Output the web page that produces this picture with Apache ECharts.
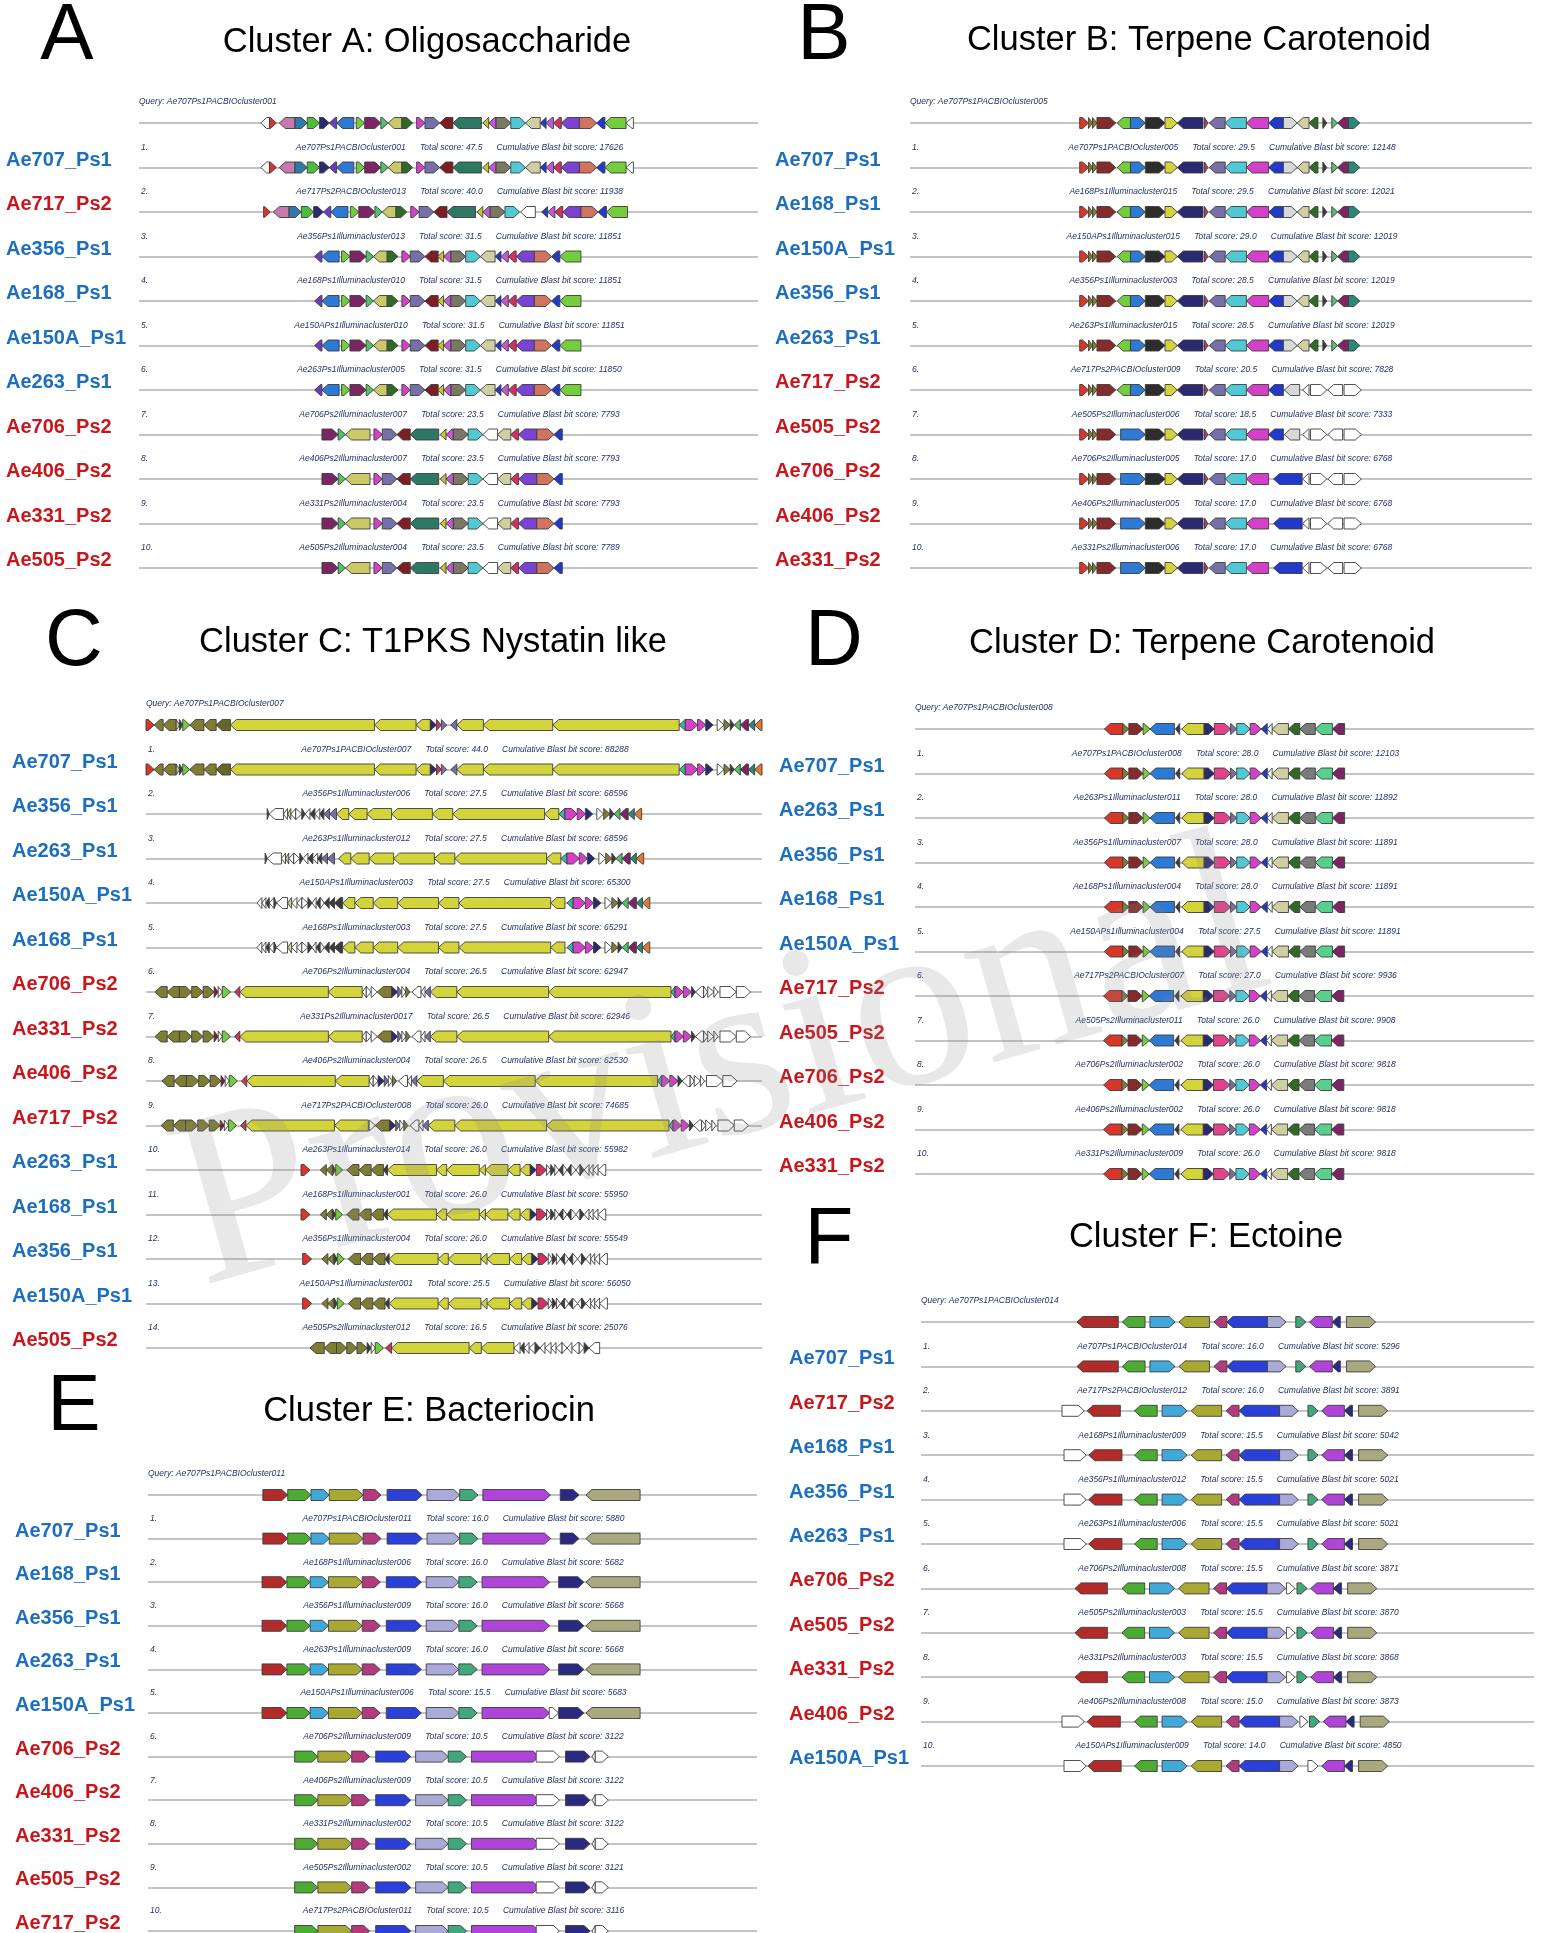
<!DOCTYPE html>
<html>
<head>
<meta charset="utf-8">
<title>ClusterBlast comparison of Ae707_Ps1 clusters</title>
<script src="https://cdn.jsdelivr.net/npm/echarts@6/dist/echarts.min.js"></script>
<style>
html, body { margin: 0; padding: 0; background: #fff; }
#main { width: 1544px; height: 1933px; }
</style>
</head>
<body>
<div id="main"></div>
<script>
// genes: [start kb, end kb, strand, homology group]
// rows: one entry per line (0 = query), each a list of [block, first, last, shift kb]

// ---- Cluster A ----
var strainsA = ['Ae707_Ps1', 'Ae717_Ps2', 'Ae356_Ps1', 'Ae168_Ps1', 'Ae150A_Ps1', 'Ae263_Ps1', 'Ae706_Ps2', 'Ae406_Ps2', 'Ae331_Ps2', 'Ae505_Ps2'];
var hitsA = ['Ae707Ps1PACBIOcluster001', 'Ae717Ps2PACBIOcluster013', 'Ae356Ps1Illuminacluster013', 'Ae168Ps1Illuminacluster010', 'Ae150APs1Illuminacluster010',
    'Ae263Ps1Illuminacluster005', 'Ae706Ps2Illuminacluster007', 'Ae406Ps2Illuminacluster007', 'Ae331Ps2Illuminacluster004', 'Ae505Ps2Illuminacluster004'];
var scoresA = [47.5, 40.0, 31.5, 31.5, 31.5, 31.5, 23.5, 23.5, 23.5, 23.5];
var blastA = [17626, 11938, 11851, 11851, 11851, 11850, 7793, 7793, 7793, 7789];
var genesA = [
    [24.8, 26.6, -1, 'white'], [26.6, 28.0, 1, 'red'], [28.6, 31.8, -1, 'pink'], [31.8, 34.3, 1, 'steel'],
    [34.3, 36.8, 1, 'green'], [36.8, 38.8, 1, 'navy'], [38.8, 40.3, -1, 'violet'], [40.3, 43.8, -1, 'blue'],
    [44.3, 46.0, 1, 'lime'], [46.0, 49.3, 1, 'plum'], [49.3, 50.8, 1, 'mint'], [50.8, 53.6, -1, 'khaki'],
    [53.6, 55.8, 1, 'forest'], [56.6, 58.3, 1, 'magenta'], [58.3, 61.3, 1, 'slate'], [61.3, 64.0, -1, 'brick'],
    [64.0, 69.8, -1, 'teal'], [70.1, 71.3, -1, 'mustard'], [71.3, 72.8, -1, 'orchid'], [72.8, 75.8, 1, 'taupe'],
    [75.8, 78.8, 1, 'cyan'], [78.8, 81.8, -1, 'sand'], [81.8, 83.0, -1, 'royal'], [83.0, 84.5, -1, 'orchid'],
    [84.5, 86.1, -1, 'crimson'], [86.1, 89.8, -1, 'purple'], [89.8, 93.3, 1, 'salmon'], [93.3, 95.0, -1, 'royal'],
    [95.0, 99.3, -1, 'lime'], [99.3, 100.8, -1, 'white'],
    [78.8, 81.8, -1, 'white'], [50.8, 55.8, -1, 'khaki'], [81.8, 84.5, -1, 'sand']
];
var rowsA = [
    [['A', 0, 29, 0]],
    [['A', 0, 29, 0]],
    [['A', 1, 20, -1.2], ['A', 30, 30, -1.0], ['A', 22, 28, 0.3]],
    [['A', 6, 15, -3.0], ['A', 17, 28, -9.2]],
    [['A', 6, 15, -3.0], ['A', 17, 28, -9.2]],
    [['A', 6, 15, -3.0], ['A', 17, 28, -9.2]],
    [['A', 6, 15, -3.0], ['A', 17, 28, -9.2]],
    [['A', 9, 10, -8.7], ['A', 31, 31, -8.7], ['A', 13, 20, -8.7], ['A', 30, 30, -8.7], ['A', 32, 32, -8.7], ['A', 24, 27, -8.7]],
    [['A', 9, 10, -8.7], ['A', 31, 31, -8.7], ['A', 13, 20, -8.7], ['A', 30, 30, -8.7], ['A', 32, 32, -8.7], ['A', 24, 27, -8.7]],
    [['A', 9, 10, -8.7], ['A', 31, 31, -8.7], ['A', 13, 20, -8.7], ['A', 30, 30, -8.7], ['A', 32, 32, -8.7], ['A', 24, 27, -8.7]],
    [['A', 9, 10, -8.7], ['A', 31, 31, -8.7], ['A', 13, 20, -8.7], ['A', 30, 30, -8.7], ['A', 32, 32, -8.7], ['A', 24, 27, -8.7]]
];

// ---- Cluster B ----
var strainsB = ['Ae707_Ps1', 'Ae168_Ps1', 'Ae150A_Ps1', 'Ae356_Ps1', 'Ae263_Ps1', 'Ae717_Ps2', 'Ae505_Ps2', 'Ae706_Ps2', 'Ae406_Ps2', 'Ae331_Ps2'];
var hitsB = ['Ae707Ps1PACBIOcluster005', 'Ae168Ps1Illuminacluster015', 'Ae150APs1Illuminacluster015', 'Ae356Ps1Illuminacluster003', 'Ae263Ps1Illuminacluster015',
    'Ae717Ps2PACBIOcluster009', 'Ae505Ps2Illuminacluster006', 'Ae706Ps2Illuminacluster005', 'Ae406Ps2Illuminacluster005', 'Ae331Ps2Illuminacluster006'];
var scoresB = [29.5, 29.5, 29.0, 28.5, 28.5, 20.5, 18.5, 17.0, 17.0, 17.0];
var blastB = [12148, 12021, 12019, 12019, 12019, 7828, 7333, 6768, 6768, 6768];
var genesB = [
    [34.4, 36.2, 1, 'red'], [36.2, 37.0, 1, 'olive'], [37.0, 37.9, 1, 'olive'], [37.9, 41.7, 1, 'maroon'],
    [42.0, 44.7, -1, 'lime'], [44.7, 47.7, 1, 'blue'], [47.7, 51.7, 1, 'black'], [51.7, 54.2, 1, 'yellow'],
    [54.2, 59.4, -1, 'navy'], [59.7, 60.4, 1, 'crimson'], [60.7, 63.9, -1, 'slate'], [63.9, 68.2, -1, 'cyan'],
    [68.2, 72.7, -1, 'magenta'], [72.7, 75.7, -1, 'royal'], [75.7, 78.5, 1, 'silver'], [78.5, 80.9, -1, 'sand'],
    [80.9, 82.7, -1, 'forest'], [83.7, 84.5, 1, 'charcoal'], [85.5, 86.7, 1, 'mint'], [86.7, 88.9, -1, 'plum'],
    [88.9, 91.2, 1, 'teal2'],
    [75.9, 79.0, -1, 'silver'], [79.6, 80.9, -1, 'white'], [81.2, 84.5, 1, 'white'], [84.7, 87.7, -1, 'white'],
    [88.0, 91.5, 1, 'white'], [42.7, 47.7, 1, 'blue'], [73.7, 79.5, -1, 'royal']
];
var rowsB = [
    [['B', 0, 20, 0]], [['B', 0, 20, 0]], [['B', 0, 20, 0]], [['B', 0, 20, 0]], [['B', 0, 20, 0]], [['B', 0, 20, 0]],
    [['B', 0, 13, 0], ['B', 21, 25, 0]],
    [['B', 0, 3, 0], ['B', 26, 26, 0], ['B', 6, 13, 0], ['B', 21, 25, 0]],
    [['B', 0, 3, 0], ['B', 26, 26, 0], ['B', 6, 12, 0], ['B', 27, 27, 0], ['B', 22, 25, 0]],
    [['B', 0, 3, 0], ['B', 26, 26, 0], ['B', 6, 12, 0], ['B', 27, 27, 0], ['B', 22, 25, 0]],
    [['B', 0, 3, 0], ['B', 26, 26, 0], ['B', 6, 12, 0], ['B', 27, 27, 0], ['B', 22, 25, 0]]
];

// ---- Cluster C ----
var strainsC = ['Ae707_Ps1', 'Ae356_Ps1', 'Ae263_Ps1', 'Ae150A_Ps1', 'Ae168_Ps1', 'Ae706_Ps2', 'Ae331_Ps2', 'Ae406_Ps2', 'Ae717_Ps2',
    'Ae263_Ps1', 'Ae168_Ps1', 'Ae356_Ps1', 'Ae150A_Ps1', 'Ae505_Ps2'];
var hitsC = ['Ae707Ps1PACBIOcluster007', 'Ae356Ps1Illuminacluster006', 'Ae263Ps1Illuminacluster012', 'Ae150APs1Illuminacluster003', 'Ae168Ps1Illuminacluster003',
    'Ae706Ps2Illuminacluster004', 'Ae331Ps2Illuminacluster0017', 'Ae406Ps2Illuminacluster004', 'Ae717Ps2PACBIOcluster008', 'Ae263Ps1Illuminacluster014',
    'Ae168Ps1Illuminacluster001', 'Ae356Ps1Illuminacluster004', 'Ae150APs1Illuminacluster001', 'Ae505Ps2Illuminacluster012'];
var scoresC = [44.0, 27.5, 27.5, 27.5, 27.5, 26.5, 26.5, 26.5, 26.0, 26.0, 26.0, 26.0, 25.5, 16.5];
var blastC = [88288, 68596, 68596, 65300, 65291, 62947, 62946, 62530, 74685, 55982, 55950, 55549, 56050, 25076];
var genesC = [
    [0.0, 2.0, 1, 'red'], [2.0, 4.2, -1, 'olive'], [4.2, 7.4, -1, 'olive'], [7.4, 8.2, 1, 'sand'],
    [8.2, 9.0, 1, 'charcoal'], [9.0, 10.7, 1, 'lime'], [10.7, 14.2, -1, 'olive'], [14.2, 17.2, -1, 'olive'],
    [17.2, 20.7, -1, 'darkolive'], [20.7, 56.0, -1, 'yellow'], [56.0, 66.2, -1, 'yellow'], [66.2, 69.7, -1, 'yellow'],
    [69.7, 71.2, 1, 'navy'], [71.2, 72.4, 1, 'crimson'], [72.4, 73.7, 1, 'slate'], [74.7, 76.2, -1, 'slate'],
    [76.2, 82.7, -1, 'yellow'], [82.7, 99.7, -1, 'yellow'], [99.7, 130.7, -1, 'yellow'], [130.7, 132.2, -1, 'turq'],
    [132.2, 135.2, 1, 'magenta'], [135.2, 137.2, 1, 'magenta'], [137.2, 139.0, 1, 'navy'], [140.0, 141.7, 1, 'white'],
    [141.7, 143.2, 1, 'olive'], [143.2, 144.2, 1, 'charcoal'], [144.2, 145.7, -1, 'mint'], [145.7, 147.7, -1, 'plum'],
    [147.7, 149.2, -1, 'teal2'], [149.2, 151.0, -1, 'orange']
];
var genesC2 = [
    [29.7, 30.2, 1, 'charcoal'], [30.2, 33.7, -1, 'white'], [33.7, 34.7, -1, 'white'], [34.7, 35.5, -1, 'sand'],
    [35.5, 36.7, -1, 'white'], [36.7, 38.2, 1, 'white'], [38.2, 39.0, 1, 'charcoal'], [39.0, 40.2, -1, 'white'],
    [40.2, 41.4, -1, 'charcoal'], [41.4, 42.6, -1, 'white'], [42.6, 43.6, -1, 'charcoal'], [43.6, 45.0, -1, 'slate'],
    [45.0, 46.7, -1, 'slate'], [46.7, 49.7, -1, 'yellow'], [49.7, 54.2, -1, 'yellow'], [54.2, 60.2, -1, 'yellow'],
    [60.2, 70.2, -1, 'yellow'], [70.2, 75.2, -1, 'yellow'], [75.2, 97.7, -1, 'yellow'], [97.7, 101.2, -1, 'yellow']
];
var genesC4 = [
    [27.2, 28.4, -1, 'white'], [28.4, 29.4, -1, 'white'], [29.4, 30.2, -1, 'charcoal'], [30.2, 31.4, -1, 'white'],
    [31.4, 32.0, 1, 'charcoal'], [32.0, 34.7, -1, 'white'], [34.7, 35.7, -1, 'sand'], [35.7, 37.0, -1, 'white'],
    [37.0, 38.2, -1, 'white'], [38.2, 39.7, 1, 'white'], [39.7, 40.7, 1, 'charcoal'], [40.7, 41.7, -1, 'white'],
    [41.7, 42.7, -1, 'charcoal'], [42.7, 43.7, 1, 'white'], [43.7, 44.9, -1, 'charcoal'], [44.9, 46.2, -1, 'charcoal'],
    [46.2, 48.2, -1, 'charcoal']
];
var genesC6 = [
    [2.2, 5.2, -1, 'olive'], [5.2, 8.2, -1, 'olive'], [8.2, 11.2, 1, 'olive'], [11.2, 14.0, 1, 'olive'],
    [14.0, 16.7, 1, 'olive'], [16.7, 17.7, 1, 'brick'], [17.7, 18.7, 1, 'white'], [18.7, 20.7, 1, 'lime'],
    [21.7, 23.0, -1, 'crimson'], [23.0, 44.7, -1, 'yellow'], [44.7, 53.0, -1, 'yellow'], [53.0, 54.0, -1, 'white'],
    [54.0, 55.2, 1, 'white'], [55.2, 56.7, 1, 'white'], [56.7, 60.2, -1, 'olive'], [60.2, 61.7, 1, 'navy'],
    [61.7, 62.7, 1, 'slate'], [62.7, 63.7, 1, 'white'], [63.7, 64.7, 1, 'olive'], [65.2, 67.4, -1, 'white'],
    [67.4, 68.4, -1, 'white'], [68.4, 69.7, -1, 'slate'], [69.7, 76.2, -1, 'yellow'], [76.2, 98.7, -1, 'yellow'],
    [98.7, 128.7, -1, 'yellow'], [128.7, 129.7, -1, 'turq'], [129.7, 131.7, 1, 'magenta'], [131.7, 133.7, 1, 'magenta'],
    [133.7, 134.7, 1, 'charcoal'], [134.7, 136.7, -1, 'white'], [136.7, 137.7, 1, 'white'], [137.7, 139.2, 1, 'white'],
    [139.2, 140.2, 1, 'white'], [140.7, 144.7, 1, 'white'], [144.7, 148.2, 1, 'white']
];
var genesC10 = [
    [38.0, 40.2, 1, 'red'], [42.7, 44.2, -1, 'olive'], [44.2, 45.7, -1, 'olive'], [45.7, 46.5, 1, 'charcoal'],
    [46.5, 48.2, 1, 'lime'], [49.2, 52.2, -1, 'olive'], [52.2, 55.2, -1, 'olive'], [55.2, 58.2, -1, 'olive'],
    [58.2, 59.2, -1, 'charcoal'], [59.2, 71.2, -1, 'yellow'], [71.2, 73.7, -1, 'yellow'], [73.7, 81.7, -1, 'yellow'],
    [81.7, 83.2, -1, 'yellow'], [83.2, 88.7, -1, 'yellow'], [88.7, 91.7, -1, 'yellow'], [91.7, 94.2, -1, 'yellow'],
    [94.2, 95.7, 1, 'navy'], [95.7, 98.2, 1, 'crimson'], [98.2, 99.2, 1, 'white'], [99.2, 100.2, 1, 'charcoal'],
    [100.2, 101.2, 1, 'white'], [101.2, 102.2, -1, 'charcoal'], [102.2, 103.2, 1, 'white'], [103.2, 104.2, -1, 'charcoal'],
    [104.2, 105.4, 1, 'white'], [105.4, 106.4, -1, 'white'], [106.4, 107.4, 1, 'charcoal'], [107.4, 108.6, -1, 'white'],
    [108.6, 109.6, -1, 'white'], [109.6, 110.8, -1, 'white'], [110.8, 112.7, -1, 'white']
];
var genesC14 = [
    [40.2, 43.7, -1, 'olive'], [43.7, 46.7, -1, 'olive'], [46.7, 49.2, 1, 'olive'], [49.2, 51.7, 1, 'olive'],
    [51.7, 54.2, 1, 'olive'], [54.2, 55.2, 1, 'charcoal'], [55.2, 56.2, 1, 'white'], [56.2, 58.2, 1, 'lime'],
    [58.7, 60.2, -1, 'crimson'], [60.2, 79.2, -1, 'yellow'], [79.2, 82.2, -1, 'yellow'], [82.2, 90.2, -1, 'yellow'],
    [90.2, 91.7, -1, 'white'], [91.7, 92.7, -1, 'charcoal'], [92.7, 93.9, -1, 'white'], [93.9, 95.4, -1, 'white'],
    [95.4, 96.6, 1, 'charcoal'], [96.6, 97.8, -1, 'white'], [97.8, 99.3, -1, 'white'], [99.3, 100.5, -1, 'white'],
    [100.5, 102.0, -1, 'white'], [102.0, 103.2, 1, 'white'], [103.2, 104.4, -1, 'white'], [104.4, 106.2, -1, 'white'],
    [106.2, 107.4, 1, 'white'], [107.4, 108.6, 1, 'charcoal'], [108.6, 111.2, -1, 'white']
];
var rowsC = [
    [['C', 0, 29, 0]],
    [['C', 0, 29, 0]],
    [['C2', 0, 19, 0], ['C', 19, 29, -29.5]],
    [['C2', 0, 12, -0.5], ['C2', 13, 19, 0.5], ['C', 19, 29, -29.0]],
    [['C4', 0, 16, 0], ['C2', 13, 19, 1.5], ['C', 19, 29, -27.5]],
    [['C4', 0, 16, 0], ['C2', 13, 19, 1.5], ['C', 19, 29, -27.5]],
    [['C6', 0, 34, 0]],
    [['C6', 0, 34, 0]],
    [['C6', 0, 12, 1.7], ['C6', 15, 34, -3.3]],
    [['C6', 0, 10, 1.5], ['C6', 13, 34, -0.5]],
    [['C10', 0, 30, 0]],
    [['C10', 0, 30, 0]],
    [['C10', 0, 30, 0.4]],
    [['C10', 0, 30, 0.4]],
    [['C14', 0, 26, 0]]
];

// ---- Cluster D ----
var strainsD = ['Ae707_Ps1', 'Ae263_Ps1', 'Ae356_Ps1', 'Ae168_Ps1', 'Ae150A_Ps1', 'Ae717_Ps2', 'Ae505_Ps2', 'Ae706_Ps2', 'Ae406_Ps2', 'Ae331_Ps2'];
var hitsD = ['Ae707Ps1PACBIOcluster008', 'Ae263Ps1Illuminacluster011', 'Ae356Ps1Illuminacluster007', 'Ae168Ps1Illuminacluster004', 'Ae150APs1Illuminacluster004',
    'Ae717Ps2PACBIOcluster007', 'Ae505Ps2Illuminacluster011', 'Ae706Ps2Illuminacluster002', 'Ae406Ps2Illuminacluster002', 'Ae331Ps2Illuminacluster009'];
var scoresD = [28.0, 28.0, 28.0, 28.0, 27.5, 27.0, 26.0, 26.0, 26.0, 26.0];
var blastD = [12103, 11892, 11891, 11891, 11891, 9936, 9908, 9818, 9818, 9818];
var genesD = [
    [46.5, 51.0, -1, 'red'], [51.0, 52.5, 1, 'olive'], [52.5, 56.0, 1, 'maroon'], [56.0, 57.7, 1, 'lime'],
    [57.7, 63.7, -1, 'blue'], [64.0, 65.0, -1, 'charcoal'], [65.5, 71.0, -1, 'yellow'], [71.0, 73.5, 1, 'navy'],
    [73.5, 77.5, 1, 'rose'], [77.5, 79.0, 1, 'slate'], [79.0, 82.3, 1, 'cyan'], [82.3, 85.0, 1, 'magenta'],
    [85.0, 86.5, -1, 'royal'], [86.5, 87.7, -1, 'white'], [87.7, 91.7, -1, 'sand'], [91.7, 94.5, -1, 'forest'],
    [94.5, 98.3, -1, 'gray'], [98.3, 102.5, -1, 'jade'], [102.5, 105.5, -1, 'plum']
];
var rowsD = [
    [['D', 0, 18, 0]], [['D', 0, 18, 0]], [['D', 0, 18, 0]], [['D', 0, 18, 0]], [['D', 0, 18, 0]], [['D', 0, 18, 0]],
    [['D', 0, 18, -0.2]], [['D', 0, 18, -0.2]], [['D', 0, 18, -0.2]], [['D', 0, 18, -0.2]], [['D', 0, 18, -0.2]]
];

// ---- Cluster E ----
var strainsE = ['Ae707_Ps1', 'Ae168_Ps1', 'Ae356_Ps1', 'Ae263_Ps1', 'Ae150A_Ps1', 'Ae706_Ps2', 'Ae406_Ps2', 'Ae331_Ps2', 'Ae505_Ps2', 'Ae717_Ps2'];
var hitsE = ['Ae707Ps1PACBIOcluster011', 'Ae168Ps1Illuminacluster006', 'Ae356Ps1Illuminacluster009', 'Ae263Ps1Illuminacluster009', 'Ae150APs1Illuminacluster006',
    'Ae706Ps2Illuminacluster009', 'Ae406Ps2Illuminacluster009', 'Ae331Ps2Illuminacluster002', 'Ae505Ps2Illuminacluster002', 'Ae717Ps2PACBIOcluster011'];
var scoresE = [16.0, 16.0, 16.0, 16.0, 15.5, 10.5, 10.5, 10.5, 10.5, 10.5];
var blastE = [5880, 5682, 5668, 5668, 5683, 3122, 3122, 3122, 3121, 3116];
var genesE = [
    [28.2, 34.3, 1, 'red2'], [34.3, 40.0, 1, 'green2'], [40.0, 44.5, 1, 'sky'], [44.5, 52.8, 1, 'olive2'],
    [52.8, 57.2, 1, 'berry'], [58.7, 67.3, 1, 'royal2'], [68.5, 76.5, 1, 'lavender'], [76.5, 81.0, 1, 'seagreen'],
    [82.2, 98.8, 1, 'purple2'], [101.2, 105.8, 1, 'navy2'], [107.5, 120.8, -1, 'sage'],
    [95.3, 101.0, 1, 'white'], [102.5, 108.5, 1, 'navy2'], [109.0, 109.8, -1, 'white'], [109.8, 113.0, 1, 'white'],
    [98.5, 100.8, 1, 'white'], [100.8, 107.0, 1, 'navy2']
];
var rowsE = [
    [['E', 0, 10, 0]], [['E', 0, 10, 0]],
    [['E', 0, 8, -0.2], ['E', 16, 16, 0], ['E', 10, 10, 0]],
    [['E', 0, 8, -0.2], ['E', 16, 16, 0], ['E', 10, 10, 0]],
    [['E', 0, 8, -0.2], ['E', 16, 16, 0], ['E', 10, 10, 0]],
    [['E', 0, 8, -0.2], ['E', 15, 16, 0], ['E', 10, 10, 0]],
    [['E', 1, 1, 1.7], ['E', 3, 8, -2.8], ['E', 11, 14, 0]],
    [['E', 1, 1, 1.7], ['E', 3, 8, -2.8], ['E', 11, 14, 0]],
    [['E', 1, 1, 1.7], ['E', 3, 8, -2.8], ['E', 11, 14, 0]],
    [['E', 1, 1, 1.7], ['E', 3, 8, -2.8], ['E', 11, 14, 0]],
    [['E', 1, 1, 1.7], ['E', 3, 8, -2.8], ['E', 11, 14, 0]]
];

// ---- Cluster F ----
var strainsF = ['Ae707_Ps1', 'Ae717_Ps2', 'Ae168_Ps1', 'Ae356_Ps1', 'Ae263_Ps1', 'Ae706_Ps2', 'Ae505_Ps2', 'Ae331_Ps2', 'Ae406_Ps2', 'Ae150A_Ps1'];
var hitsF = ['Ae707Ps1PACBIOcluster014', 'Ae717Ps2PACBIOcluster012', 'Ae168Ps1Illuminacluster009', 'Ae356Ps1Illuminacluster012', 'Ae263Ps1Illuminacluster006',
    'Ae706Ps2Illuminacluster008', 'Ae505Ps2Illuminacluster003', 'Ae331Ps2Illuminacluster003', 'Ae406Ps2Illuminacluster008', 'Ae150APs1Illuminacluster009'];
var scoresF = [16.0, 16.0, 15.5, 15.5, 15.5, 15.5, 15.5, 15.5, 15.0, 14.0];
var blastF = [5296, 3891, 5042, 5021, 5021, 3871, 3870, 3868, 3873, 4850];
var genesF = [
    [38.5, 48.7, -1, 'red2'], [49.7, 55.3, -1, 'green2'], [56.5, 62.7, 1, 'sky'], [63.7, 71.2, -1, 'olive2'],
    [72.3, 75.5, -1, 'berry'], [75.5, 85.5, -1, 'royal2'], [85.5, 90.1, 1, 'lavender'], [92.5, 95.0, 1, 'seagreen'],
    [95.9, 101.5, -1, 'purple2'], [101.5, 103.5, -1, 'navy2'], [105.0, 112.2, 1, 'sage'],
    [34.8, 40.3, 1, 'white'], [38.0, 46.0, -1, 'red2'], [90.2, 92.3, 1, 'white'], [93.5, 95.5, 1, 'white'],
    [92.5, 95.0, 1, 'white'], [41.0, 49.2, -1, 'red2']
];
var rowsF = [
    [['F', 0, 10, 0]], [['F', 0, 10, 0]],
    [['F', 11, 11, 0], ['F', 16, 16, 0], ['F', 1, 10, 3.0]],
    [['F', 11, 11, 0.5], ['F', 16, 16, 0.4], ['F', 1, 10, 3.0]],
    [['F', 11, 11, 0.5], ['F', 16, 16, 0.4], ['F', 1, 10, 3.0]],
    [['F', 11, 11, 0.5], ['F', 16, 16, 0.4], ['F', 1, 10, 3.0]],
    [['F', 12, 12, 0], ['F', 1, 6, -0.1], ['F', 13, 13, 0], ['F', 7, 10, 0.3]],
    [['F', 12, 12, 0], ['F', 1, 6, -0.1], ['F', 13, 13, 0], ['F', 7, 10, 0.3]],
    [['F', 12, 12, 0], ['F', 1, 6, -0.1], ['F', 13, 13, 0], ['F', 7, 10, 0.3]],
    [['F', 11, 11, 0], ['F', 16, 16, 0], ['F', 1, 6, 3.0], ['F', 14, 14, 0], ['F', 7, 10, 3.4]],
    [['F', 11, 11, 0.5], ['F', 16, 16, 0.2], ['F', 1, 6, 3.0], ['F', 15, 15, 3.0], ['F', 8, 10, 3.0]]
];

// ---- styling ----
var palette = {
    white: '#ffffff', red: '#d8352b', pink: '#c679ac', steel: '#2e7aa9', green: '#4bbf3a', navy: '#2a2a72',
    violet: '#6a3dbd', blue: '#2e79d4', lime: '#74cd3d', plum: '#7c2563', mint: '#52c266', khaki: '#cbc967',
    forest: '#2f6b24', magenta: '#d540c8', slate: '#7571a8', brick: '#7c1e24', teal: '#2d7862', mustard: '#c8c42e',
    orchid: '#c657d4', taupe: '#7a7865', cyan: '#51c9d5', sand: '#d0cfa2', royal: '#2339c9', crimson: '#d2305f',
    purple: '#7a43d4', salmon: '#d1745f', olive: '#7f7c33', maroon: '#862b2b', black: '#2d2d2d', yellow: '#d3d33b',
    silver: '#d8d8d8', charcoal: '#3b3b3b', teal2: '#2b8779', turq: '#3cb3a8', orange: '#e07a28', darkolive: '#66652a',
    rose: '#e0438b', gray: '#7b7b7b', jade: '#58cf8c', red2: '#b22b2b', green2: '#4bab33', sky: '#40a9d9',
    olive2: '#a9a832', berry: '#b23b80', royal2: '#2b3fd9', lavender: '#aaaad8', seagreen: '#40a87c',
    purple2: '#b044d9', navy2: '#2a2a80', sage: '#a8a97f'
};
var blocks = { A: genesA, B: genesB, C: genesC, C2: genesC2, C4: genesC4, C6: genesC6, C10: genesC10, C14: genesC14,
    D: genesD, E: genesE, F: genesF };

var panels = [
    { letter: 'A', title: 'Cluster A: Oligosaccharide', query: 'Ae707Ps1PACBIOcluster001', strains: strainsA, hits: hitsA, scores: scoresA, blast: blastA, rows: rowsA,
        span: 126.2, grid: { left: 139, top: 123, width: 619, height: 445 }, labelX: 6, letterAt: [67, 37], titleAt: [427, 42] },
    { letter: 'B', title: 'Cluster B: Terpene Carotenoid', query: 'Ae707Ps1PACBIOcluster005', strains: strainsB, hits: hitsB, scores: scoresB, blast: blastB, rows: rowsB,
        span: 126.1, grid: { left: 910, top: 123, width: 622, height: 445 }, labelX: 775, letterAt: [824, 37], titleAt: [1199, 40] },
    { letter: 'C', title: 'Cluster C: T1PKS Nystatin like', query: 'Ae707Ps1PACBIOcluster007', strains: strainsC, hits: hitsC, scores: scoresC, blast: blastC, rows: rowsC,
        span: 151, grid: { left: 146, top: 725, width: 616, height: 623 }, labelX: 12, letterAt: [74, 643], titleAt: [433, 642] },
    { letter: 'D', title: 'Cluster D: Terpene Carotenoid', query: 'Ae707Ps1PACBIOcluster008', strains: strainsD, hits: hitsD, scores: scoresD, blast: blastD, rows: rowsD,
        span: 152, grid: { left: 915, top: 729, width: 619, height: 445 }, labelX: 779, letterAt: [834, 643], titleAt: [1202, 643] },
    { letter: 'E', title: 'Cluster E: Bacteriocin', query: 'Ae707Ps1PACBIOcluster011', strains: strainsE, hits: hitsE, scores: scoresE, blast: blastE, rows: rowsE,
        span: 149.5, grid: { left: 148, top: 1495, width: 609, height: 436 }, labelX: 15, letterAt: [74, 1408], titleAt: [429, 1411] },
    { letter: 'F', title: 'Cluster F: Ectoine', query: 'Ae707Ps1PACBIOcluster014', strains: strainsF, hits: hitsF, scores: scoresF, blast: blastF, rows: rowsF,
        span: 151.3, grid: { left: 921, top: 1322, width: 613, height: 444 }, labelX: 789, letterAt: [829, 1241], titleAt: [1206, 1237] }
];

var infoColor = '#24306e';
var infoFont = 'italic 8.5px "Liberation Sans", Arial, sans-serif';

function geneData(rows) {
    var out = [];
    rows.forEach(function (segs, r) {
        segs.forEach(function (s) {
            var list = blocks[s[0]];
            for (var i = s[1]; i <= s[2]; i++) {
                var g = list[i];
                out.push({ value: [g[0] + s[3], g[1] + s[3], r, g[2]], itemStyle: { color: palette[g[3]] } });
            }
        });
    });
    return out;
}

function renderGene(params, api) {
    var y = api.coord([0, api.value(2)])[1];
    var xa = api.coord([api.value(0), 0])[0];
    var xb = api.coord([api.value(1), 0])[0];
    var h = 5.5;
    var head = Math.min(6, xb - xa);
    var pts = api.value(3) > 0
        ? [[xa, y - h], [xb - head, y - h], [xb, y], [xb - head, y + h], [xa, y + h]]
        : [[xb, y - h], [xa + head, y - h], [xa, y], [xa + head, y + h], [xb, y + h]];
    return {
        type: 'polygon',
        shape: { points: pts },
        style: { fill: api.visual('color'), stroke: '#3d3d3d', lineWidth: 0.9 }
    };
}

function renderInfo(p) {
    return function (params, api) {
        var r = api.value(0);
        var cs = params.coordSys;
        var y = api.coord([0, r])[1] - 20;
        if (r === 0) {
            return { type: 'text', style: { x: cs.x, y: y - 1, text: 'Query: ' + p.query, font: infoFont, fill: infoColor, verticalAlign: 'middle' } };
        }
        var line = p.hits[r - 1] + '      Total score: ' + p.scores[r - 1].toFixed(1) +
            '      Cumulative Blast bit score: ' + p.blast[r - 1];
        return {
            type: 'group',
            children: [
                { type: 'text', style: { x: cs.x + 2, y: y, text: r + '.', font: infoFont, fill: infoColor, verticalAlign: 'middle' } },
                { type: 'text', style: { x: cs.x + cs.width / 2 + 11, y: y, text: line, font: infoFont, fill: infoColor, align: 'center', verticalAlign: 'middle' } }
            ]
        };
    };
}

var option = {
    backgroundColor: '#ffffff',
    animation: false,
    title: [],
    grid: [],
    xAxis: [],
    yAxis: [],
    series: [],
    graphic: [{
        type: 'text', x: 722, y: 1072, rotation: 0.275, z: 100, silent: true,
        style: { text: 'Provisional', font: '245px "Liberation Serif", serif', fill: 'rgba(140,140,140,0.2)', align: 'center', verticalAlign: 'middle' }
    }]
};

panels.forEach(function (p, k) {
    option.title.push({
        text: p.letter, left: p.letterAt[0], top: p.letterAt[1] - 40, textAlign: 'center', padding: 0,
        textStyle: { fontSize: 80, lineHeight: 80, fontWeight: 'normal', fontFamily: 'Liberation Sans', color: '#000' }
    });
    option.title.push({
        text: p.title, left: p.titleAt[0], top: p.titleAt[1] - 17, textAlign: 'center', padding: 0,
        textStyle: { fontSize: 34.5, lineHeight: 35, fontWeight: 'normal', fontFamily: 'Liberation Sans', color: '#000' }
    });
    option.grid.push({ left: p.grid.left, top: p.grid.top, width: p.grid.width, height: p.grid.height, outerBoundsMode: 'none' });
    option.xAxis.push({ type: 'value', gridIndex: k, min: 0, max: p.span, show: false });
    option.yAxis.push({
        type: 'value', gridIndex: k, min: 0, max: p.rows.length - 1, interval: 1, inverse: true,
        axisLine: { show: false }, axisTick: { show: false },
        splitLine: { show: true, showMinLine: true, showMaxLine: true, lineStyle: { color: '#c4c4c4', width: 2 } },
        axisLabel: {
            align: 'left',
            margin: p.grid.left - p.labelX,
            formatter: function (v) {
                if (v < 1) return '';
                var s = p.strains[v - 1];
                return /Ps1$/.test(s) ? '{b|' + s + '}' : '{r|' + s + '}';
            },
            rich: {
                b: { color: '#1c6ebf', fontSize: 20, fontWeight: 'bold', fontFamily: 'Liberation Sans', padding: [0, 0, 15, 0] },
                r: { color: '#c8171c', fontSize: 20, fontWeight: 'bold', fontFamily: 'Liberation Sans', padding: [0, 0, 15, 0] }
            }
        }
    });
    option.series.push({
        type: 'custom', name: 'genes ' + p.letter, xAxisIndex: k, yAxisIndex: k, coordinateSystem: 'cartesian2d',
        clip: false, silent: true, encode: { x: [0, 1], y: 2 },
        renderItem: renderGene,
        data: geneData(p.rows)
    });
    option.series.push({
        type: 'custom', name: 'info ' + p.letter, xAxisIndex: k, yAxisIndex: k, coordinateSystem: 'cartesian2d',
        clip: false, silent: true, encode: { x: 1, y: 0 },
        renderItem: renderInfo(p),
        data: p.rows.map(function (s, r) { return [r, 0]; })
    });
});

var myChart = echarts.init(document.getElementById('main'));
myChart.setOption(option);
</script>
</body>
</html>
